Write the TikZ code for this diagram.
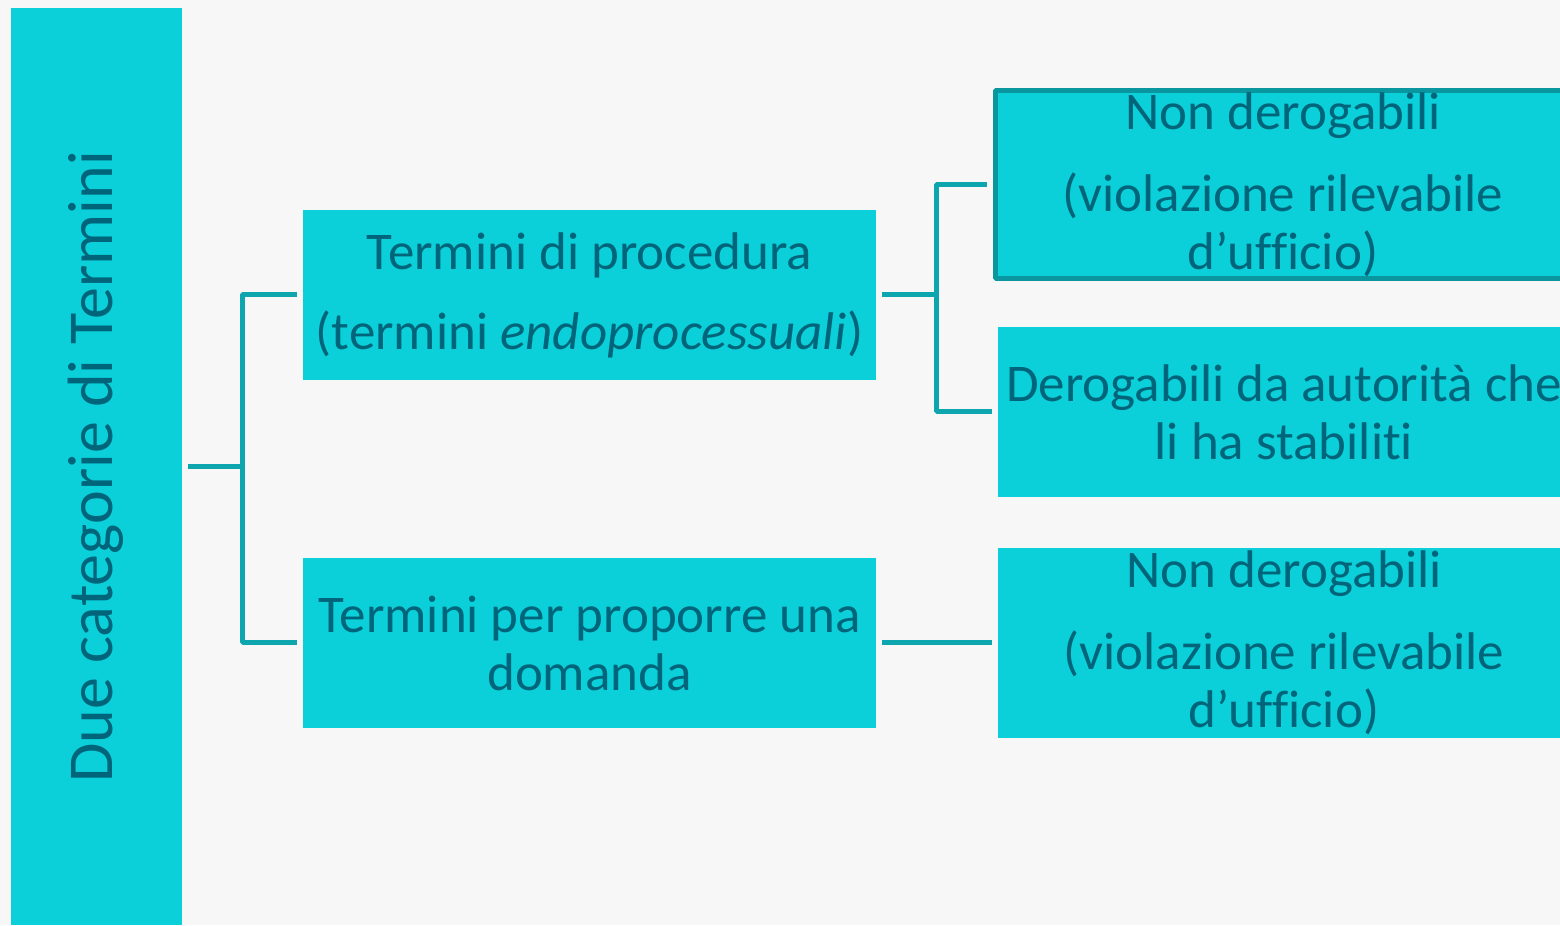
\documentclass[tikz,border=0pt]{standalone}
\usepackage{fontspec}
\setmainfont{Carlito}[Ligatures={NoCommon}]
\usepackage{tikz}

\definecolor{bgcol}{RGB}{247,247,247}
\definecolor{boxcol}{RGB}{11,207,217}
\definecolor{txtcol}{RGB}{0,101,122}
\definecolor{linkcol}{RGB}{14,166,174}
\definecolor{edgecol}{RGB}{10,150,158}

\begin{document}
\begin{tikzpicture}[x=1bp,y=1bp,line join=bevel,
  box/.style={fill=boxcol,text=txtcol,inner sep=0pt,align=center,
    font=\fontsize{53bp}{58bp}\selectfont},
  link/.style={draw=linkcol,line width=5bp,shorten <=6bp,shorten >=6bp}]
  \clip (0,0) rectangle (1560,925);
  \fill[bgcol] (0,0) rectangle (1560,925);
%%
  % Node: cat
  \node[box,minimum width=171bp,minimum height=917bp] (cat) at (96.5,458.5) {};
  \node[box,fill=none,rotate=90,font=\fontsize{64bp}{70bp}\selectfont] (catlabel) at (96,458) {Due categorie di Termini};
  % Node: proc
  \node[box,minimum width=573bp,minimum height=170bp] (proc) at (589.5,630)
    {Termini di procedura\\[22bp](termini \textit{endoprocessuali})};
  % Node: dom
  \node[box,minimum width=573bp,minimum height=170bp] (dom) at (589.5,282)
    {Termini per proporre una\\domanda};
  % Node: nd1
  \node[box,draw=edgecol,line width=5bp,minimum width=576bp,minimum height=188bp] (nd1) at (1283,740)
    {Non derogabili\\[24bp](violazione rilevabile\\d’ufficio)};
  % Node: der
  \node[box,minimum width=572bp,minimum height=170bp] (der) at (1284,513)
    {Derogabili da autorità che\\li ha stabiliti};
  % Node: nd2
  \node[box,minimum width=572bp,minimum height=190bp] (nd2) at (1284,282)
    {Non derogabili\\[24bp](violazione rilevabile\\d’ufficio)};
%%
  % Edge: cat -> proc
  \draw[link] (cat.east) -- ++(60,0) |- (proc.west);
  % Edge: cat -> dom
  \draw[link] (cat.east) -- ++(60,0) |- (dom.west);
  % Edge: proc -> nd1
  \draw[link] (proc.east) -- ++(60,0) |- (nd1.west);
  % Edge: proc -> der
  \draw[link] (proc.east) -- ++(60,0) |- (der.west);
  % Edge: dom -> nd2
  \draw[link] (dom.east) -- (nd2.west);
%
\end{tikzpicture}
\end{document}
